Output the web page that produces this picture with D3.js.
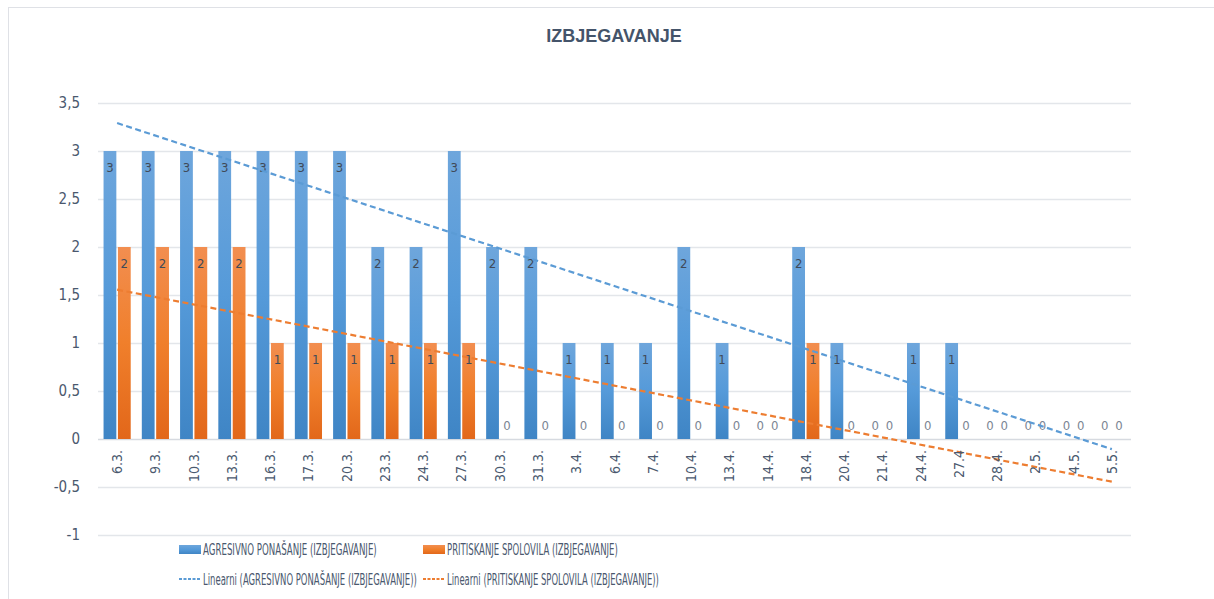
<!DOCTYPE html>
<html>
<head>
<meta charset="utf-8">
<script src="https://cdn.jsdelivr.net/npm/d3@7"></script>
<style>
  body { margin: 0; background: #fff; }
  svg { display: block; font-family: "Liberation Sans Narrow", "DejaVu Sans Condensed", "Liberation Sans", sans-serif; }
</style>
</head>
<body>
<div id="chart"></div>
<script>
// dates (x categories)
var categories = ["6.3.", "9.3.", "10.3.", "13.3.", "16.3.", "17.3.", "20.3.", "23.3.", "24.3.",
  "27.3.", "30.3.", "31.3.", "3.4.", "6.4.", "7.4.", "10.4.", "13.4.", "14.4.", "18.4.",
  "20.4.", "21.4.", "24.4.", "27.4", "28.4.", "2.5.", "4.5.", "5.5."];

var agresivno = [3, 3, 3, 3, 3, 3, 3, 2, 2, 3, 2, 2, 1, 1, 1, 2, 1, 0, 2, 1, 0, 1, 1, 0, 0, 0, 0];
var pritiskanje = [2, 2, 2, 2, 1, 1, 1, 1, 1, 1, 0, 0, 0, 0, 0, 0, 0, 0, 1, 0, 0, 0, 0, 0, 0, 0, 0];

var seriesNames = ["AGRESIVNO PONAŠANJE (IZBJEGAVANJE)", "PRITISKANJE SPOLOVILA (IZBJEGAVANJE)"];
var trendNames = ["Linearni (AGRESIVNO PONAŠANJE (IZBJEGAVANJE))", "Linearni (PRITISKANJE SPOLOVILA (IZBJEGAVANJE))"];
var yTicks = [-1, -0.5, 0, 0.5, 1, 1.5, 2, 2.5, 3, 3.5];

var W = 1214, H = 599;
var textCol = "#4a586e";

var svg = d3.select("#chart").append("svg")
    .attr("width", W)
    .attr("height", H);

// gradients for the bars
var defs = svg.append("defs");
function grad(id, top, mid, bottom) {
    var g = defs.append("linearGradient").attr("id", id)
        .attr("x1", 0).attr("y1", 0).attr("x2", 0).attr("y2", 1);
    g.append("stop").attr("offset", "0%").attr("stop-color", top);
    g.append("stop").attr("offset", "50%").attr("stop-color", mid);
    g.append("stop").attr("offset", "100%").attr("stop-color", bottom);
}
grad("gBlue", "#6ea6dc", "#559ad9", "#3f85c5");
grad("gOrange", "#f28e50", "#f07f2b", "#e2671a");

// chart frame
svg.append("rect")
    .attr("x", 8.5).attr("y", 7.5)
    .attr("width", W + 10).attr("height", H + 10)
    .attr("fill", "none")
    .attr("stroke", "#dfe1e6");

svg.append("text")
    .attr("x", 614).attr("y", 42)
    .attr("text-anchor", "middle")
    .style("font-family", "'Liberation Sans', sans-serif")
    .style("font-weight", "bold")
    .style("font-size", "18px")
    .attr("fill", "#44546a")
    .text("IZBJEGAVANJE");

var x = d3.scaleBand()
    .domain(categories)
    .range([98, 1131])
    .paddingInner(0.29)
    .paddingOuter(0.145);

var xs = d3.scaleBand()
    .domain([0, 1])
    .range([0, x.bandwidth()])
    .paddingInner(0.11);

var y = d3.scaleLinear()
    .domain([-1, 3.5])
    .range([535, 103]);

var fmt = function(d) { return String(d).replace(".", ","); };

// gridlines
svg.append("g").selectAll("line")
    .data(yTicks)
    .enter().append("line")
    .attr("x1", 98).attr("x2", 1131)
    .attr("y1", function(d) { return Math.round(y(d)) + 0.5; })
    .attr("y2", function(d) { return Math.round(y(d)) + 0.5; })
    .attr("stroke", function(d) { return d === 0 ? "#d6dae0" : "#e3e6ea"; })
    .attr("stroke-width", 1.3);

// y tick labels
svg.append("g").selectAll("text")
    .data(yTicks)
    .enter().append("text")
    .attr("x", 80)
    .attr("y", function(d) { return y(d) + 5; })
    .attr("text-anchor", "end")
    .style("font-size", "15px")
    .attr("fill", textCol)
    .text(fmt);

// bars
var series = [
    { vals: agresivno, fill: "url(#gBlue)", idx: 0 },
    { vals: pritiskanje, fill: "url(#gOrange)", idx: 1 }
];

series.forEach(function(s) {
    var g = svg.append("g");
    g.selectAll("rect")
        .data(s.vals)
        .enter().append("rect")
        .attr("x", function(d, i) { return x(categories[i]) + xs(s.idx); })
        .attr("width", xs.bandwidth())
        .attr("y", function(d) { return y(Math.max(d, 0)); })
        .attr("height", function(d) { return Math.abs(y(d) - y(0)); })
        .attr("fill", s.fill);

    g.selectAll("text")
        .data(s.vals)
        .enter().append("text")
        .attr("x", function(d, i) { return x(categories[i]) + xs(s.idx) + xs.bandwidth() / 2; })
        .attr("y", function(d) { return d === 0 ? y(0) - 9 : y(d) + 21; })
        .attr("text-anchor", "middle")
        .style("font-size", "13px")
        .attr("fill", function(d) { return d === 0 ? "#7b8593" : "#404a58"; })
        .text(function(d) { return d; });
});

// linear trendlines (least squares, x = 1..n like Excel)
function fit(vals) {
    var n = vals.length, mx = (n + 1) / 2, my = d3.mean(vals);
    var sxy = d3.sum(vals, function(v, i) { return (i + 1 - mx) * (v - my); });
    var sxx = d3.sum(vals, function(v, i) { return (i + 1 - mx) * (i + 1 - mx); });
    var b = sxy / sxx;
    return function(k) { return my + b * (k + 1 - mx); };
}

var trendCols = ["#5b9bd5", "#ed7d31"];
[agresivno, pritiskanje].forEach(function(vals, j) {
    var f = fit(vals);
    var last = categories.length - 1;
    svg.append("line")
        .attr("x1", x(categories[0]) + x.bandwidth() / 2)
        .attr("y1", y(f(0)))
        .attr("x2", x(categories[last]) + x.bandwidth() / 2)
        .attr("y2", y(f(last)))
        .attr("stroke", trendCols[j])
        .attr("stroke-width", 2.2)
        .attr("stroke-dasharray", "6,3.5");
});

// x labels (rotated)
svg.append("g").selectAll("text")
    .data(categories)
    .enter().append("text")
    .attr("transform", function(d) {
        return "translate(" + (x(d) + x.bandwidth() / 2 + 5) + ",450) rotate(-90)";
    })
    .attr("text-anchor", "end")
    .style("font-size", "14px")
    .attr("fill", textCol)
    .text(function(d) { return d; });

// legend - text squeezed horizontally to the narrow width of the original font
var legend = svg.append("g").style("font-size", "15px").attr("fill", textCol);
var legX = [179, 423];
var nameW = [174, 171], trendW = [214, 212];

function squeezedText(tx, ty, str, w) {
    var t = legend.append("text").text(str);
    var natural = t.node().getComputedTextLength();
    t.attr("transform", "translate(" + tx + "," + ty + ") scale(" + (w / natural) + ",1)");
}

[0, 1].forEach(function(j) {
    legend.append("rect")
        .attr("x", legX[j]).attr("y", 545)
        .attr("width", 22).attr("height", 9)
        .attr("fill", j === 0 ? "url(#gBlue)" : "url(#gOrange)");
    squeezedText(legX[j] + 24, 555, seriesNames[j], nameW[j]);
    legend.append("line")
        .attr("x1", legX[j]).attr("x2", legX[j] + 22)
        .attr("y1", 579).attr("y2", 579)
        .attr("stroke", trendCols[j])
        .attr("stroke-width", 2)
        .attr("stroke-dasharray", "3,1.5");
    squeezedText(legX[j] + 24, 585, trendNames[j], trendW[j]);
});
</script>
</body>
</html>
